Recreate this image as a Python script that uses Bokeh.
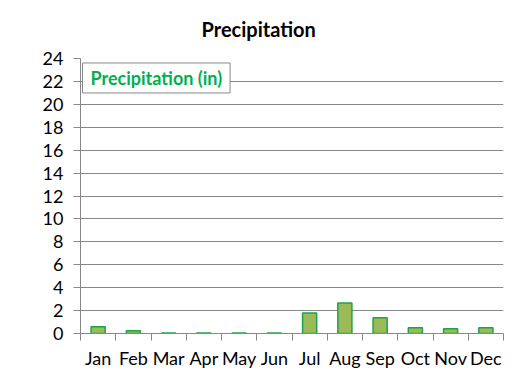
from bokeh.plotting import figure
from bokeh.models import Range1d, FixedTicker, Label, ColumnDataSource
from bokeh.embed import file_html
from bokeh.resources import INLINE

months = ["Jan", "Feb", "Mar", "Apr", "May", "Jun", "Jul", "Aug", "Sep", "Oct", "Nov", "Dec"]
precip = [0.58, 0.23, 0.05, 0.05, 0.05, 0.05, 1.8, 2.67, 1.37, 0.5, 0.41, 0.5]
y_ticks = list(range(0, 25, 2))

FONT = "Lato"
GRID = "#888888"

xs = [i + 0.5 for i in range(len(months))]
src = ColumnDataSource(dict(x=xs, top=precip))

p = figure(width=518, height=377, output_backend="svg", toolbar_location=None,
           x_range=Range1d(0, 12), y_range=Range1d(0, 24),
           min_border_left=80, min_border_right=15, min_border_top=57, min_border_bottom=44)
p.outline_line_color = None
p.background_fill_color = "white"
p.border_fill_color = "white"

p.title.text = "Precipitation"
p.title.align = "left"
p.title.offset = 121
p.title.standoff = 32
p.title.vertical_align = "top"
p.title.text_font = FONT
p.title.text_font_style = "bold"
p.title.text_font_size = "20px"
p.title.text_color = "black"

p.vbar(x="x", top="top", bottom=0, width=0.4, source=src,
       fill_color="#9BBB59", line_color="#1FA34A", line_width=1.5)

# x axis: labels at centers, ticks at boundaries
p.xaxis.ticker = FixedTicker(ticks=xs, minor_ticks=list(range(0, 13)))
p.xaxis.major_label_overrides = {x: m for x, m in zip(xs, months)}
p.xaxis.major_tick_line_color = None
p.xaxis.minor_tick_line_color = GRID
p.xaxis.minor_tick_in = 0
p.xaxis.minor_tick_out = 7
p.xaxis.axis_line_color = GRID
p.xaxis.major_label_standoff = 6
p.xaxis.major_label_text_font = FONT
p.xaxis.major_label_text_font_size = "18px"
p.xaxis.major_label_text_color = "black"
p.xgrid.grid_line_color = None

p.yaxis.ticker = FixedTicker(ticks=y_ticks)
p.yaxis.minor_tick_line_color = None
p.yaxis.major_tick_line_color = GRID
p.yaxis.major_tick_in = 0
p.yaxis.major_tick_out = 7
p.yaxis.axis_line_color = GRID
p.yaxis.major_label_standoff = 10
p.yaxis.major_label_text_font = FONT
p.yaxis.major_label_text_font_size = "18px"
p.yaxis.major_label_text_color = "black"
p.ygrid.grid_line_color = GRID
p.ygrid.grid_line_width = 1

legend = Label(x=0.057, y=22.3, text="Precipitation (in)", text_baseline="middle",
               text_font=FONT, text_font_style="bold", text_font_size="18px",
               text_color="#00B050", background_fill_color="white",
               border_line_color=GRID, border_line_width=1, padding=(8, 4))
p.add_layout(legend)

open("out.html", "w").write(file_html(p, INLINE))
